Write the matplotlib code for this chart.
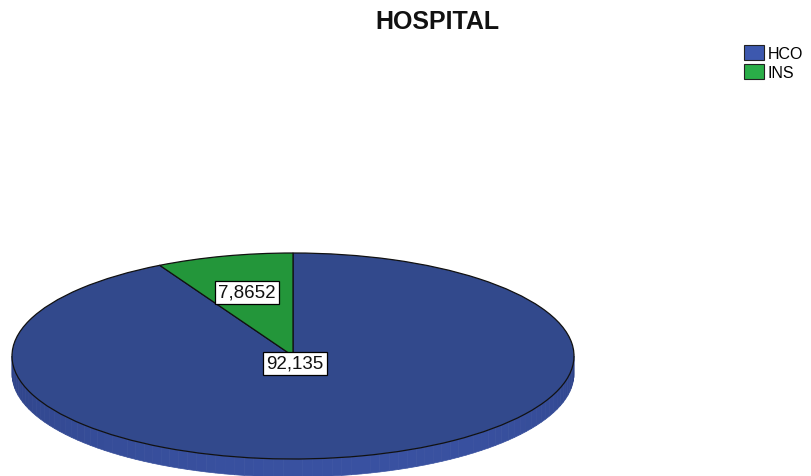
import numpy as np
import matplotlib
matplotlib.use("Agg")
import matplotlib.pyplot as plt
from matplotlib.patches import Polygon, Patch

categories = ["HCO", "INS"]
values = [92.135, 7.8652]
value_labels = ["92,135", "7,8652"]
title = "HOSPITAL"

pie_colors = ["#32498C", "#23963A"]
legend_colors = ["#3D58AE", "#2AAE48"]

W, H = 811, 477
fig = plt.figure(figsize=(W / 100, H / 100), dpi=100)
plt.rcParams['font.family'] = ['Liberation Sans', 'DejaVu Sans']

# pie axes: data [-1,1] mapped onto the top face ellipse
x0, x1 = 12, 574
ytop, ybot = 254, 460
ax = fig.add_axes([x0 / W, (H - ybot) / H, (x1 - x0) / W, (ybot - ytop) / H])
ax.set_axis_off()

depth = 18 / ((ybot - ytop) / 2)

# side band with gradient (visible lower half)
n = 90
angs = np.linspace(np.pi, 2 * np.pi, n + 1)
c_dark = np.array([0x2C, 0x40, 0x82]) / 255
c_light = np.array([0x3C, 0x55, 0xA8]) / 255
for i in range(n):
    a0, a1 = angs[i], angs[i + 1]
    t = (i + 0.5) / n
    w = np.clip(np.sin(np.pi * t) ** 0.6 * (0.6 + 0.4 * t), 0, 1)
    col = c_dark + (c_light - c_dark) * w
    pts = [(np.cos(a0), np.sin(a0)), (np.cos(a1), np.sin(a1)),
           (np.cos(a1), np.sin(a1) - depth), (np.cos(a0), np.sin(a0) - depth)]
    ax.add_patch(Polygon(pts, closed=True, facecolor=col, edgecolor=col,
                         linewidth=0.5, clip_on=False, zorder=1))

wedges, _ = ax.pie(values, colors=pie_colors, startangle=90, counterclock=False,
                   radius=1, center=(0, 0),
                   wedgeprops=dict(edgecolor="#111111", linewidth=0.9, zorder=2))
for wd in wedges:
    wd.set_clip_on(False)
    wd.set_zorder(2)

ax.set_aspect('auto')
ax.set_xlim(-1, 1)
ax.set_ylim(-1, 1)

def to_data(px, py):
    return ((px - x0) / (x1 - x0) * 2 - 1, 1 - (py - ytop) / (ybot - ytop) * 2)

label_px = [(295, 364), (247, 293)]
for lab, (px, py) in zip(value_labels, label_px):
    dx, dy = to_data(px, py)
    ax.text(dx, dy, lab, ha="center", va="center", fontsize=13.5, color="#111111",
            zorder=5, clip_on=False,
            bbox=dict(boxstyle="square,pad=0.16", facecolor="white",
                      edgecolor="black", linewidth=0.9))

fig.text(437 / W, 1 - 22 / H, title, ha="center", va="center",
         fontsize=18, fontweight="bold", color="#111111")

handles = [Patch(facecolor=c, edgecolor="#222222", linewidth=0.8) for c in legend_colors]
fig.legend(handles, categories, loc="upper left",
           bbox_to_anchor=(734 / W, 1 - 36 / H), frameon=False,
           fontsize=11.5, handlelength=1.3, handleheight=1.1,
           handletextpad=0.2, labelspacing=0.2, borderpad=0.1)

fig.savefig("out.png", dpi=100)
